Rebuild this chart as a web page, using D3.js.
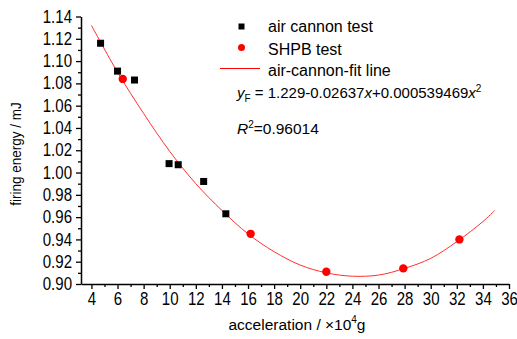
<!DOCTYPE html>
<html>
<head>
<meta charset="utf-8">
<script src="https://cdn.jsdelivr.net/npm/d3@7"></script>
<style>
  body { margin: 0; background: #fff; }
  text { font-family: Arial, "Liberation Sans", sans-serif; fill: #000; }
</style>
</head>
<body>
<div id="chart"></div>
<script>
// air cannon test points (acceleration x10^4 g, energy mJ)
const cannonX = [4.7, 6.0, 7.3, 9.95, 10.65, 12.6, 14.3];
const cannonY = [1.116, 1.091, 1.083, 1.008, 1.007, 0.992, 0.963];

// SHPB test points
const shpbX = [6.4, 16.2, 22.0, 27.9, 32.2];
const shpbY = [1.084, 0.945, 0.911, 0.914, 0.940];

// fit line
const fitX = [4.0, 6, 8, 10, 12, 14, 16, 18, 20, 22, 24, 26, 28, 30, 32, 34, 34.9];
const fitY = [1.132, 1.090, 1.053, 1.019, 0.990, 0.966, 0.945, 0.929, 0.917, 0.910, 0.907, 0.908, 0.914, 0.923, 0.938, 0.956, 0.966];

const xTicks = [4, 6, 8, 10, 12, 14, 16, 18, 20, 22, 24, 26, 28, 30, 32, 34, 36];
const yTicks = [0.90, 0.92, 0.94, 0.96, 0.98, 1.00, 1.02, 1.04, 1.06, 1.08, 1.10, 1.12, 1.14];

const width = 517, height = 339;

const svg = d3.select('#chart').append('svg')
    .attr('width', width)
    .attr('height', height);

const x = d3.scaleLinear().domain([3.2, 36]).range([81, 509]);
const y = d3.scaleLinear().domain([0.90, 1.14]).range([284, 16.5]);

// minor ticks
const xMinor = d3.range(5, 36, 2);
const yMinor = d3.range(0.91, 1.14, 0.02);

svg.append('g')
    .attr('transform', 'translate(0,284)')
    .call(d3.axisBottom(x).tickValues(xMinor).tickSize(3).tickFormat(''))
    .call(g => g.select('.domain').remove())
    .call(g => g.selectAll('line').attr('stroke-width', 1.3));

svg.append('g')
    .attr('transform', 'translate(81,0)')
    .call(d3.axisLeft(y).tickValues(yMinor).tickSize(3).tickFormat(''))
    .call(g => g.select('.domain').remove())
    .call(g => g.selectAll('line').attr('stroke-width', 1.3));

// tick labels are tall and a little condensed in the original
const xAxis = svg.append('g')
    .attr('transform', 'translate(0,284)')
    .call(d3.axisBottom(x).tickValues(xTicks).tickSize(5).tickSizeOuter(0).tickPadding(4));
xAxis.select('.domain').attr('stroke-width', 1.5);
xAxis.selectAll('line').attr('stroke-width', 1.3);
xAxis.selectAll('text')
    .attr('font-size', 17.5)
    .attr('font-family', 'Arial, "Liberation Sans", sans-serif')
    .attr('transform', 'scale(0.86,1)');

const yAxis = svg.append('g')
    .attr('transform', 'translate(81,0)')
    .call(d3.axisLeft(y).tickValues(yTicks).tickSize(5).tickSizeOuter(0).tickPadding(4)
        .tickFormat(d3.format('.2f')));
yAxis.select('.domain').attr('stroke-width', 1.5);
yAxis.selectAll('line').attr('stroke-width', 1.3);
yAxis.selectAll('text')
    .attr('font-size', 17.5)
    .attr('font-family', 'Arial, "Liberation Sans", sans-serif')
    .attr('x', -9 / 0.86)
    .attr('transform', 'scale(0.86,1)');

// fit curve
const line = d3.line()
    .x(d => x(d[0]))
    .y(d => y(d[1]))
    .curve(d3.curveCatmullRom);

svg.append('path')
    .datum(fitX.map((v, i) => [v, fitY[i]]))
    .attr('d', line)
    .attr('fill', 'none')
    .attr('stroke', '#ff3030')
    .attr('stroke-width', 1);

// air cannon squares
svg.selectAll('.sq')
    .data(cannonX.map((v, i) => [v, cannonY[i]]))
    .enter().append('rect')
    .attr('class', 'sq')
    .attr('x', d => x(d[0]) - 3.5)
    .attr('y', d => y(d[1]) - 3.5)
    .attr('width', 7)
    .attr('height', 7)
    .attr('fill', '#000');

// SHPB circles
svg.selectAll('.dot')
    .data(shpbX.map((v, i) => [v, shpbY[i]]))
    .enter().append('circle')
    .attr('class', 'dot')
    .attr('cx', d => x(d[0]))
    .attr('cy', d => y(d[1]))
    .attr('r', 4.2)
    .attr('fill', '#ff0000');

// axis titles
svg.append('text')
    .attr('transform', 'translate(21,154) rotate(-90) scale(0.9,1)')
    .attr('text-anchor', 'middle')
    .attr('font-size', 15)
    .text('firing energy / mJ');

const xt = svg.append('text')
    .attr('x', 297)
    .attr('y', 330)
    .attr('text-anchor', 'middle')
    .attr('font-size', 15.5);
xt.append('tspan').text('acceleration / \u00d710');
xt.append('tspan').attr('font-size', 10).attr('dy', -7).text('4');
xt.append('tspan').attr('dy', 7).text('g');

// legend
const lg = svg.append('g');
lg.append('rect').attr('x', 238.5).attr('y', 23.5).attr('width', 6).attr('height', 6).attr('fill', '#000');
lg.append('text').attr('x', 268).attr('y', 32).attr('font-size', 16).text('air cannon test');
lg.append('circle').attr('cx', 241.5).attr('cy', 47.5).attr('r', 3.5).attr('fill', '#ff0000');
lg.append('text').attr('x', 268).attr('y', 55).attr('font-size', 16).text('SHPB test');
lg.append('line').attr('x1', 220).attr('x2', 260).attr('y1', 68.5).attr('y2', 68.5)
    .attr('stroke', '#ff0000').attr('stroke-width', 1);
lg.append('text').attr('x', 268).attr('y', 76).attr('font-size', 16).text('air-cannon-fit line');

const eq = svg.append('text').attr('x', 237).attr('y', 98).attr('font-size', 15);
eq.append('tspan').attr('font-style', 'italic').text('y');
eq.append('tspan').attr('font-size', 10).attr('dy', 4).text('F');
eq.append('tspan').attr('dy', -4).text(' = 1.229-0.02637');
eq.append('tspan').attr('font-style', 'italic').text('x');
eq.append('tspan').text('+0.000539469');
eq.append('tspan').attr('font-style', 'italic').text('x');
eq.append('tspan').attr('font-size', 10).attr('dy', -6).text('2');

const r2 = svg.append('text').attr('x', 237).attr('y', 134).attr('font-size', 15.5);
r2.append('tspan').attr('font-style', 'italic').text('R');
r2.append('tspan').attr('font-size', 10).attr('dy', -6).text('2');
r2.append('tspan').attr('dy', 6).text('=0.96014');
</script>
</body>
</html>
